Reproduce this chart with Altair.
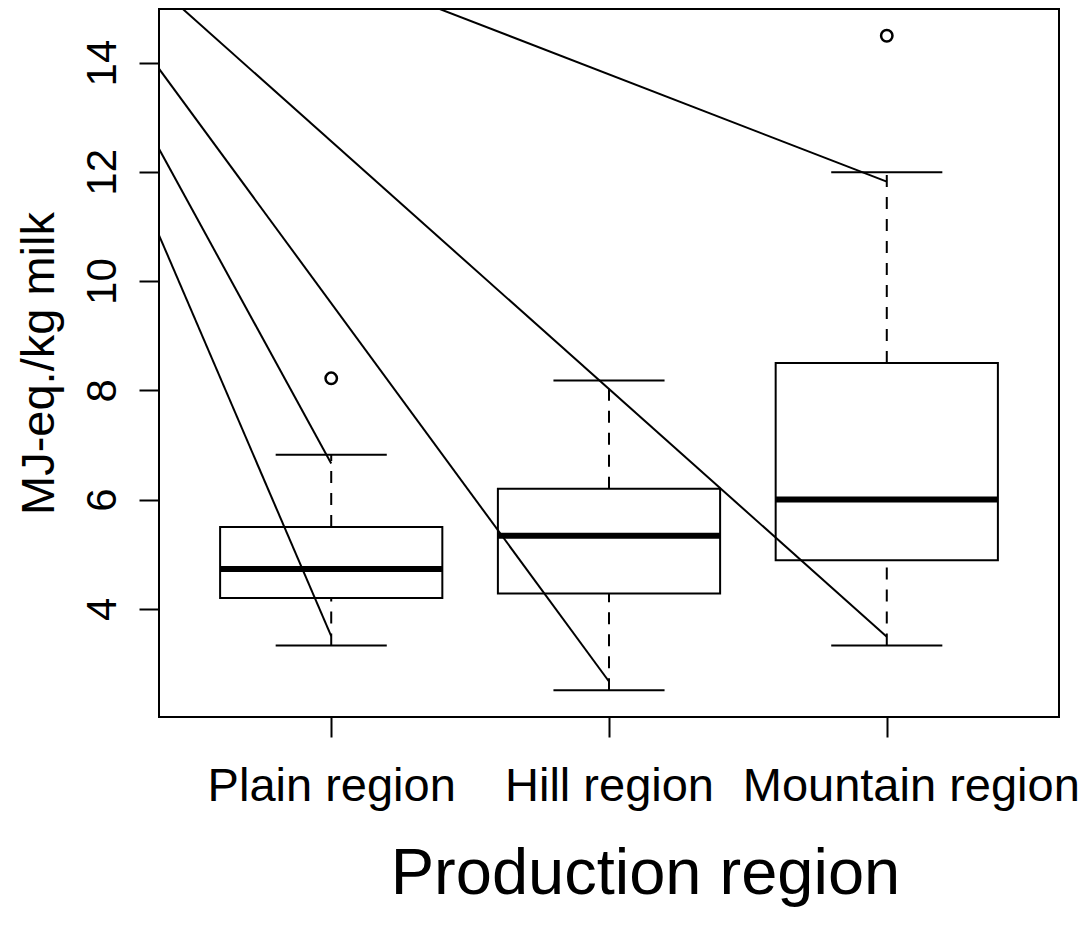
import altair as alt
import pandas as pd

# Energy demand per kg milk by production region (box-and-whisker summary)
regions = ["Plain region", "Hill region", "Mountain region"]
positions = [1, 2, 3]
whisker_low = [3.33, 2.51, 3.33]
quartile_1 = [4.20, 4.28, 4.89]
medians = [4.73, 5.34, 6.00]
quartile_3 = [5.50, 6.20, 8.50]
whisker_high = [6.82, 8.18, 11.99]

outlier_pos = [1, 3]
outlier_val = [8.22, 14.49]

# leader segments fanning out from a common point up and to the left of the panel
seg_origin_x = -0.24
seg_origin_y = 18.18
seg_end_x = [1, 1, 2, 3, 3]
seg_end_y = [3.50, 6.66, 2.67, 3.49, 11.82]

y_ticks = [4, 6, 8, 10, 12, 14]

boxes = pd.DataFrame({
    "pos": positions,
    "lo": whisker_low,
    "q1": quartile_1,
    "med": medians,
    "q3": quartile_3,
    "hi": whisker_high,
})
outliers = pd.DataFrame({"pos": outlier_pos, "val": outlier_val})
segments = pd.DataFrame({
    "ox": [seg_origin_x] * len(seg_end_x),
    "oy": [seg_origin_y] * len(seg_end_x),
    "ex": seg_end_x,
    "ey": seg_end_y,
})

FONT = "Liberation Sans"
xscale = alt.Scale(domain=[0.38, 3.62], nice=False, zero=False)
yscale = alt.Scale(domain=[2.02, 14.98], nice=False, zero=False)

label_expr = "[" + ",".join("'" + r + "'" for r in regions) + "][datum.value - 1]"

x_axis = alt.Axis(
    values=positions,
    labelExpr=label_expr,
    domain=False,
    grid=False,
    ticks=True,
    tickSize=20,
    tickWidth=2,
    tickColor="black",
    labelFont=FONT,
    labelFontSize=47,
    labelColor="black",
    labelAlign="center",
    labelBaseline="alphabetic",
    labelPadding=63,
    labelFlush=False,
    labelOverlap=False,
    labelLimit=0,
    labelOffset={"condition": {"test": "datum.value === 3", "value": 24}, "value": 0},
    title="Production region",
    titleFont=FONT,
    titleFontSize=65,
    titleFontWeight="normal",
    titleColor="black",
    titleAlign="center",
    titleBaseline="alphabetic",
    titleLimit=0,
    titleX=486,
    titleY=176,
)

y_axis = alt.Axis(
    values=y_ticks,
    domain=False,
    grid=False,
    tickSize=20,
    tickWidth=2,
    tickColor="black",
    labelFont=FONT,
    labelFontSize=42,
    labelColor="black",
    labelAngle=270,
    labelAlign="center",
    labelBaseline="alphabetic",
    labelPadding=24,
    labelFlush=False,
    labelOverlap=False,
    labelLimit=0,
    title="MJ-eq./kg milk",
    titleFont=FONT,
    titleFontSize=47,
    titleFontWeight="normal",
    titleColor="black",
    titleAngle=270,
    titleAlign="center",
    titleBaseline="alphabetic",
    titleLimit=0,
    titleX=-106,
    titleY=354,
)


def xq(field):
    return alt.X(field, type="quantitative", scale=xscale, axis=x_axis)


def yq(field):
    return alt.Y(field, type="quantitative", scale=yscale, axis=y_axis)


box_base = alt.Chart(boxes).transform_calculate(
    left="datum.pos - 0.4",
    right="datum.pos + 0.4",
    capl="datum.pos - 0.2",
    capr="datum.pos + 0.2",
)

box_rect = box_base.mark_rect(
    fillOpacity=0, stroke="black", strokeWidth=2
).encode(
    x=xq("left:Q"), x2="right:Q",
    y=yq("q1:Q"), y2="q3:Q",
)

median_line = box_base.mark_rule(color="black", strokeWidth=6, strokeCap="butt").encode(
    x=xq("left:Q"), x2="right:Q", y=yq("med:Q"),
)

upper_whisker = box_base.mark_rule(color="black", strokeWidth=2, strokeDash=[12, 10]).encode(
    x=xq("pos:Q"), y=yq("q3:Q"), y2="hi:Q",
)
lower_whisker = box_base.mark_rule(color="black", strokeWidth=2, strokeDash=[12, 10]).encode(
    x=xq("pos:Q"), y=yq("lo:Q"), y2="q1:Q",
)
upper_cap = box_base.mark_rule(color="black", strokeWidth=2).encode(
    x=xq("capl:Q"), x2="capr:Q", y=yq("hi:Q"),
)
lower_cap = box_base.mark_rule(color="black", strokeWidth=2).encode(
    x=xq("capl:Q"), x2="capr:Q", y=yq("lo:Q"),
)

outlier_pts = alt.Chart(outliers).mark_point(
    shape="circle", filled=False, size=130, strokeWidth=2.5, color="black", opacity=1
).encode(
    x=xq("pos:Q"), y=yq("val:Q"),
)

leaders = alt.Chart(segments).mark_rule(color="black", strokeWidth=2, clip=True).encode(
    x=xq("ox:Q"), y=yq("oy:Q"), x2="ex:Q", y2="ey:Q",
)

chart = alt.layer(
    box_rect, median_line, upper_whisker, lower_whisker, upper_cap, lower_cap,
    outlier_pts, leaders,
).properties(
    width=900,
    height=708,
    autosize=alt.AutoSizeParams(type="none"),
    padding={"left": 159, "top": 9, "right": 29, "bottom": 209},
    background="white",
).configure(
    font=FONT
).configure_view(
    stroke="black", strokeWidth=2
)

chart.save("out.html", embed_options={"renderer": "svg", "actions": False})
